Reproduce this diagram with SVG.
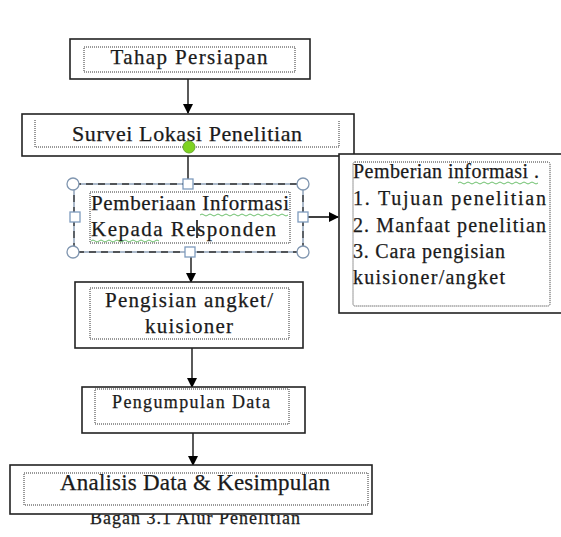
<svg xmlns="http://www.w3.org/2000/svg" width="561" height="537" viewBox="0 0 561 537">
<defs>
<marker id="ah" markerWidth="10" markerHeight="10" refX="9" refY="5" orient="auto" markerUnits="userSpaceOnUse">
<path d="M0,0 L10,5 L0,10 z" fill="#000"/>
</marker>
<style>
.box{fill:#fff;stroke:#222;stroke-width:1.6}
.dot{fill:none;stroke:#333;stroke-width:1;stroke-dasharray:1 1}
.t{font-family:"Liberation Serif","Times New Roman",serif;fill:#1a1a1a;stroke:#1a1a1a;stroke-width:0.25}
.c{stroke:#000;stroke-width:1.3;fill:none}
.h{fill:#fff;stroke:#8096b0;stroke-width:1.3}
.sq{fill:#fff;stroke:#7e9bbd;stroke-width:1.3}
.wavy{fill:none;stroke:#5cb85c;stroke-width:0.9}
</style>
</defs>
<rect width="561" height="537" fill="#fff"/>
<g id="connectors">
<line class="c" x1="188" y1="79" x2="188" y2="113" marker-end="url(#ah)"/>
<line class="c" x1="188" y1="155" x2="188" y2="183"/>
<line class="c" x1="305" y1="217" x2="338" y2="217" marker-end="url(#ah)"/>
<line class="c" x1="191" y1="252" x2="191" y2="282" marker-end="url(#ah)"/>
<line class="c" x1="192" y1="348" x2="192" y2="387" marker-end="url(#ah)"/>
<line class="c" x1="193" y1="433" x2="193" y2="465" marker-end="url(#ah)"/>
</g>
<g id="n1">
<rect class="box" x="70" y="39" width="240" height="40"/>
<rect class="dot" x="84" y="47" width="211" height="25"/>
<text class="t" x="189" y="64" font-size="21" text-anchor="middle" textLength="157">Tahap Persiapan</text>
</g>
<g id="n2">
<rect class="box" x="22" y="114" width="332" height="42"/>
<path class="dot" d="M35,120 V147 H339 V120"/>
<text class="t" x="187" y="141" font-size="22" text-anchor="middle" textLength="230">Survei Lokasi Penelitian</text>
</g>
<g id="n3">
<rect x="74" y="184" width="229" height="68" fill="#fff" stroke="#8096b0" stroke-width="1.3"/>
<rect x="74" y="184" width="229" height="68" fill="none" stroke="#333" stroke-width="1.3" stroke-dasharray="7 5"/>
<rect class="dot" x="90" y="192" width="200" height="51"/>
<text class="t" x="91" y="210" font-size="21" textLength="198">Pemberiaan Informasi</text>
<text class="t" x="91" y="236" font-size="21" textLength="185">Kepada Responden</text>
<path class="wavy" d="M200,215 q2,-2 4,0 t4,0 t4,0 t4,0 t4,0 t4,0 t4,0 t4,0 t4,0 t4,0 t4,0 t4,0 t4,0 t4,0 t4,0 t4,0 t4,0 t4,0 t4,0 t4,0 t4,0 t4,0"/>
<path class="wavy" d="M91,241 q2,-2 4,0 t4,0 t4,0 t4,0 t4,0 t4,0 t4,0 t4,0 t4,0 t4,0 t4,0 t4,0 t4,0 t4,0 t4,0 t4,0 t4,0"/>
<line x1="197" y1="220" x2="197" y2="238" stroke="#000" stroke-width="1.5"/>
<circle class="h" cx="73" cy="184" r="6"/>
<circle class="h" cx="303" cy="184" r="6"/>
<circle class="h" cx="73" cy="252" r="6"/>
<circle class="h" cx="303" cy="252" r="6"/>
<rect class="sq" x="183" y="179" width="10" height="10"/>
<rect class="sq" x="185" y="247" width="10" height="10"/>
<rect class="sq" x="70" y="212" width="10" height="10"/>
<rect class="sq" x="298" y="212" width="10" height="10"/>
<circle cx="189" cy="147" r="6" fill="#7ed321" stroke="#6aaa30" stroke-width="1"/>
</g>
<g id="n4">
<rect class="box" x="339" y="154" width="230" height="159"/>
<rect class="dot" x="353" y="162" width="197" height="144" rx="2"/>
<text class="t" x="353" y="178" font-size="20" textLength="186">Pemberian informasi .</text>
<path class="wavy" d="M458,183 q2,-2 4,0 t4,0 t4,0 t4,0 t4,0 t4,0 t4,0 t4,0 t4,0 t4,0 t4,0 t4,0 t4,0 t4,0 t4,0 t4,0 t4,0 t4,0 t4,0 t4,0"/>
<text class="t" x="353" y="205" font-size="20" textLength="193">1. Tujuan   penelitian</text>
<text class="t" x="353" y="232" font-size="20" textLength="193">2. Manfaat penelitian</text>
<text class="t" x="353" y="258" font-size="20" textLength="152">3. Cara pengisian</text>
<text class="t" x="353" y="284" font-size="20" textLength="152">kuisioner/angket</text>
</g>
<g id="n5">
<rect class="box" x="75" y="282" width="228" height="66"/>
<rect class="dot" x="90" y="288" width="199" height="51"/>
<text class="t" x="189" y="307" font-size="21" text-anchor="middle" textLength="168">Pengisian angket/</text>
<text class="t" x="189" y="333" font-size="21" text-anchor="middle" textLength="88">kuisioner</text>
</g>
<g id="n6">
<rect class="box" x="82" y="387" width="223" height="46"/>
<rect class="dot" x="95" y="389" width="194" height="35"/>
<text class="t" x="191" y="408" font-size="18" text-anchor="middle" textLength="158">Pengumpulan Data</text>
</g>
<text class="t" x="195" y="524" font-size="18" text-anchor="middle" textLength="210">Bagan 3.1 Alur Penelitian</text>
<g id="n7">
<rect class="box" x="10" y="465" width="362" height="49"/>
<rect class="dot" x="24" y="473" width="344" height="32"/>
<text class="t" x="195" y="490" font-size="23" text-anchor="middle" textLength="270">Analisis Data &amp; Kesimpulan</text>
</g>
</svg>
